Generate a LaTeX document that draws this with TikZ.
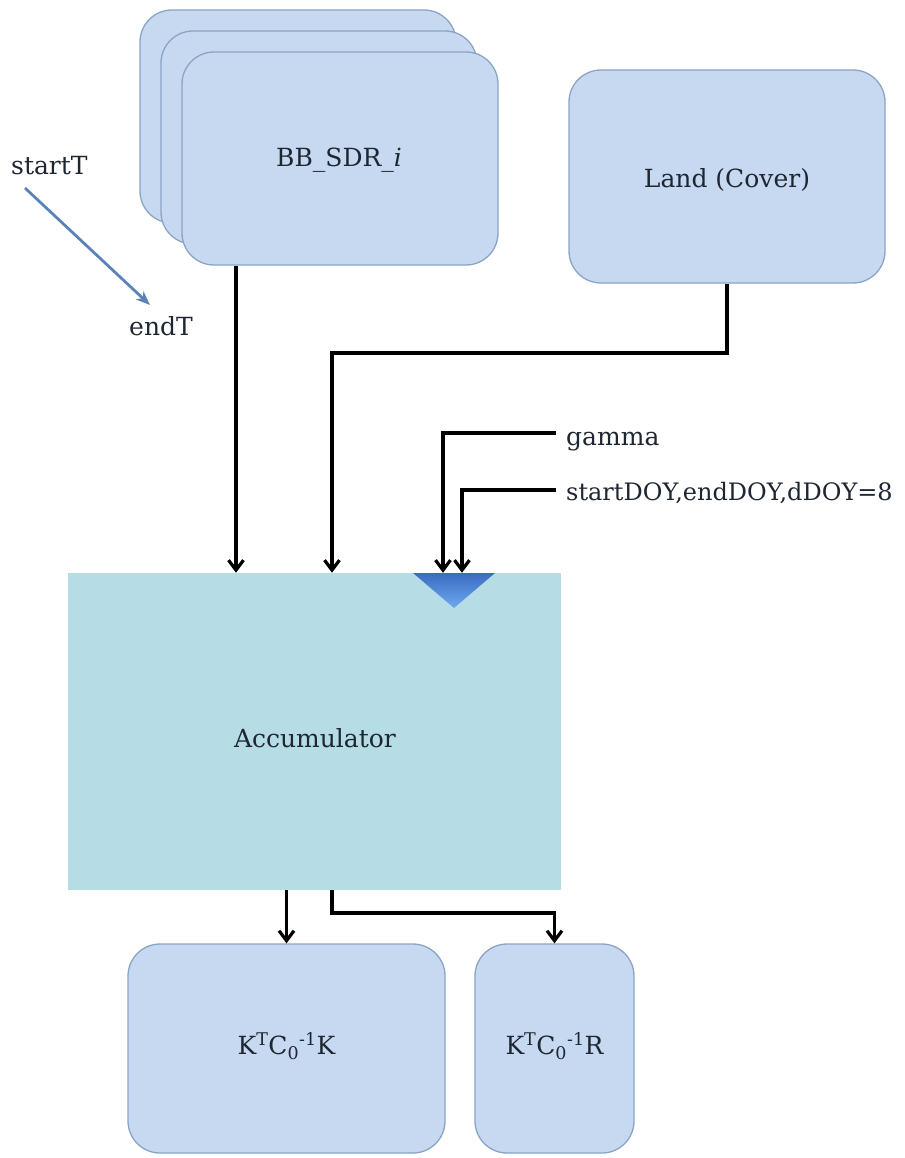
\documentclass[tikz,border=0pt]{standalone}
\usepackage{fontspec}
\setmainfont{DejaVu Serif}
\usetikzlibrary{arrows.meta,calc}
\definecolor{cardfill}{HTML}{C6D9F1}
\definecolor{cardline}{HTML}{8AA4C4}
\definecolor{accfill}{HTML}{B6DDE6}
\definecolor{txtcol}{HTML}{1E2632}
\definecolor{steel}{HTML}{5A84B8}
\definecolor{triTop}{HTML}{3A6CC0}
\definecolor{triBot}{HTML}{6FA8F0}
\begin{document}
\begin{tikzpicture}[x=1pt,y=-1pt,
  every node/.style={font=\fontsize{25}{30}\selectfont,text=txtcol,inner sep=0pt},
  card/.style={draw=cardline,line width=1.3pt,fill=cardfill,rounded corners=32pt},
  lbl/.style={anchor=base west},
  conn/.style={draw=black,line width=3.2pt,-{Straight Barb[length=10pt,width=15pt]}},
  tarrow/.style={draw=steel,line width=2.8pt,-{Stealth[length=14pt,width=11pt,inset=4pt]}}]
\useasboundingbox (0,0) rectangle (904,1158);
% BB_SDR stack
\node[card,minimum width=316pt,minimum height=213pt] (bbc) at (298,116.5) {};
\node[card,minimum width=316pt,minimum height=213pt] (bbb) at (319,137.5) {};
\node[card,minimum width=316pt,minimum height=213pt] (bb) at (340,158.5) {};
\node (bbt) at (339,160) {BB\_SDR\_\textit{i}};
% Land
\node[card,minimum width=316pt,minimum height=213pt] (land) at (727,176.5) {};
\node (landt) at (727,180) {Land (Cover)};
% startT / endT
\node[lbl] (st) at (11,175) {startT};
\node[lbl] (et) at (129,335) {endT};
\draw[tarrow] ($(st.base west)+(14,13)$) -- ($(et.base west)+(21,-30)$);
% Accumulator
\node[fill=accfill,minimum width=493pt,minimum height=317pt] (acc) at (314.5,731.5) {};
\node (acct) at (315,738) {Accumulator};
\shade[top color=triTop,bottom color=triBot] (413,573) -- (495,573) -- (454,608) -- cycle;
% inputs
\draw[conn] (bb.south -| 236,0) -- (acc.north -| 236,0);
\coordinate (lc) at (332,353);
\draw[conn] (land.south) |- (lc) -- (lc |- acc.north);
\node[lbl] (gamma) at (566,445) {gamma};
\node[lbl,font=\fontsize{24}{29}\selectfont] (doy) at (566,500) {startDOY,endDOY,dDOY=8};
\draw[conn] ($(gamma.base west)+(-10,-12)$) -| (acc.north -| 443,0);
\draw[conn] ($(doy.base west)+(-10,-10)$) -| (acc.north -| 462,0);
% outputs
\node[card,minimum width=317pt,minimum height=209pt] (kk) at (286.5,1048.5) {};
\node (kkt) at (286.5,1046) {K\textsuperscript{T}C\textsubscript{0}\textsuperscript{-1}K};
\node[card,minimum width=159pt,minimum height=209pt] (kr) at (554.5,1048.5) {};
\node (krt) at (554.5,1046) {K\textsuperscript{T}C\textsubscript{0}\textsuperscript{-1}R};
\draw[conn] (acc.south -| kk.north) -- (kk.north);
\coordinate (oc) at (332,913);
\draw[conn] (acc.south -| oc) -- (oc) -| (kr.north);
\end{tikzpicture}
\end{document}
